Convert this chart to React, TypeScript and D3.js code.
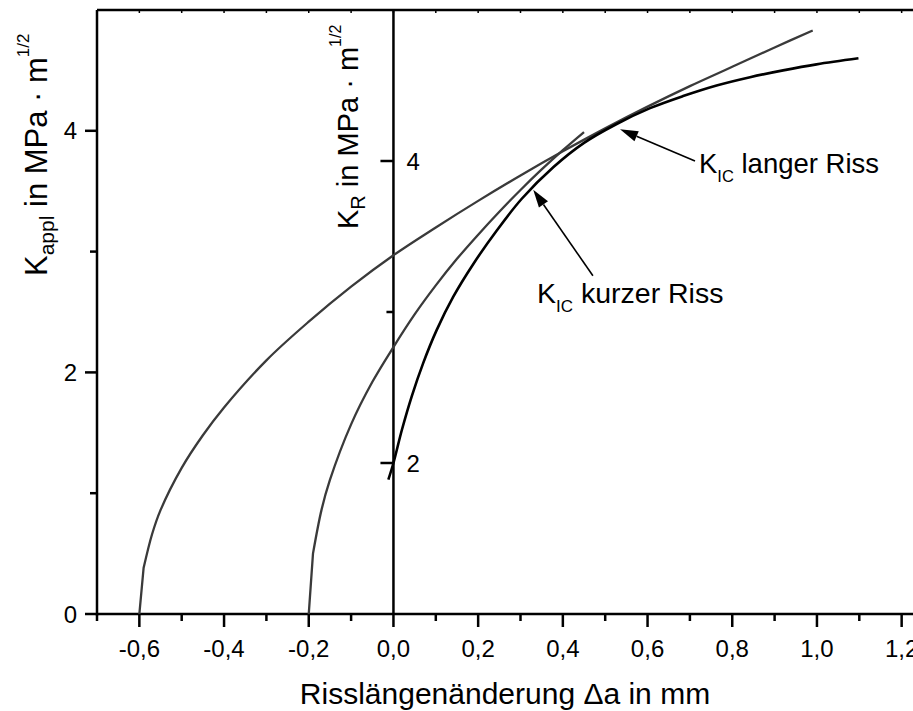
import React from "react";
import * as d3 from "d3";

// K_appl curve for the long crack (starts at -0.6 mm)
const curveAX = [-0.6, -0.59, -0.57, -0.55, -0.5, -0.45, -0.4, -0.3, -0.2, -0.1, 0, 0.1, 0.2, 0.3, 0.4, 0.5, 0.6, 0.7, 0.8, 0.9, 0.99];
const curveAK = [0, 0.38, 0.66, 0.86, 1.21, 1.48, 1.71, 2.1, 2.42, 2.71, 2.97, 3.2, 3.42, 3.63, 3.83, 4.02, 4.2, 4.37, 4.53, 4.69, 4.83];

// K_appl curve for the short crack (starts at -0.2 mm)
const curveBX = [-0.2, -0.19, -0.17, -0.15, -0.1, -0.05, 0, 0.05, 0.1, 0.15, 0.2, 0.25, 0.3, 0.35, 0.4, 0.45];
const curveBK = [0, 0.5, 0.86, 1.11, 1.57, 1.92, 2.21, 2.48, 2.72, 2.94, 3.14, 3.33, 3.51, 3.68, 3.84, 3.99];

// R-curve K_R (inner axis)
const curveRX = [-0.012, 0, 0.02, 0.043, 0.07, 0.102, 0.141, 0.189, 0.244, 0.303, 0.378, 0.45, 0.527, 0.606, 0.684, 0.763, 0.842, 0.92, 0.999, 1.098];
const curveRK = [1.89, 2.0, 2.22, 2.44, 2.66, 2.88, 3.1, 3.32, 3.54, 3.75, 3.96, 4.12, 4.245, 4.35, 4.43, 4.5, 4.555, 4.6, 4.64, 4.68];

const xMajorTicks = [-0.6, -0.4, -0.2, 0, 0.2, 0.4, 0.6, 0.8, 1.0, 1.2];
const xMinorTicks = [-0.7, -0.5, -0.3, -0.1, 0.1, 0.3, 0.5, 0.7, 0.9, 1.1];
const yApplMajor = [0, 2, 4];
const yApplMinor = [1, 3];
const yRMajor = [2, 4];
const yRMinor = [3];

// arrow tips/tails in data coordinates (x, K_R)
const annLang = { tip: [0.535, 4.21], tail: [0.712, 4.0] };
const annKurz = { tip: [0.33, 3.81], tail: [0.471, 3.24] };

const FONT = "'Liberation Sans', Arial, sans-serif";

export default function App() {
  const W = 913, H = 711;
  const x = d3.scaleLinear().domain([-0.7, 1.3]).range([97, 97 + 2 * 4.235 * 100]);
  const yA = d3.scaleLinear().domain([0, 5]).range([614, 10]);
  const yR = d3.scaleLinear().domain([1, 5]).range([614, 10]);

  const fmt = (v: number) => (v < 0 ? "-" : "") + Math.abs(v).toFixed(1).replace(".", ",");
  const smooth = d3.curveCatmullRom.alpha(0.5);

  const kinkPath = (xs: number[], ks: number[]) => {
    const pts: [number, number][] = xs.map((v, i) => [x(v), yA(ks[i])]);
    const rest = d3.line().curve(smooth)(pts.slice(1)) || "";
    return `M${pts[0][0]},${pts[0][1]}L` + rest.slice(1);
  };
  const rPath = d3.line().curve(smooth)(curveRX.map((v, i) => [x(v), yR(curveRK[i])] as [number, number])) || "";

  const x0 = x(0);
  const topTicks = d3.range(-7, 14).map((i) => i / 10);

  const arrow = (a: { tip: number[]; tail: number[] }) => {
    const tx = x(a.tip[0]), ty = yR(a.tip[1]);
    const sx = x(a.tail[0]), sy = yR(a.tail[1]);
    const ang = Math.atan2(ty - sy, tx - sx);
    const L = 18, Wd = 5.5;
    const bx = tx - L * Math.cos(ang), by = ty - L * Math.sin(ang);
    const p1 = [bx + Wd * Math.sin(ang), by - Wd * Math.cos(ang)];
    const p2 = [bx - Wd * Math.sin(ang), by + Wd * Math.cos(ang)];
    return (
      <g>
        <line x1={sx} y1={sy} x2={bx} y2={by} stroke="#000" strokeWidth={1.6} />
        <polygon points={`${tx},${ty} ${p1[0]},${p1[1]} ${p2[0]},${p2[1]}`} fill="#000" />
      </g>
    );
  };

  return (
    <svg width={W} height={H} style={{ position: "absolute", left: 0, top: 0, background: "#fff" }} fontFamily={FONT}>
      <rect x={0} y={0} width={W} height={H} fill="#fff" />
      {/* top border */}
      <line x1={97} y1={10} x2={W} y2={10} stroke="#000" strokeWidth={2.5} />
      {topTicks.map((t) => (
        <line key={"tt" + t} x1={x(t)} x2={x(t)} y1={10} y2={13} stroke="#000" strokeWidth={1.5} />
      ))}
      {/* bottom axis */}
      <line x1={97} y1={614} x2={W} y2={614} stroke="#000" strokeWidth={2.5} />
      {xMajorTicks.map((t) => (
        <g key={"xm" + t}>
          <line x1={x(t)} x2={x(t)} y1={614} y2={627} stroke="#000" strokeWidth={2.5} />
          <text x={x(t)} y={657} textAnchor="middle" fontSize={24}>{fmt(t)}</text>
        </g>
      ))}
      {xMinorTicks.map((t) => (
        <line key={"xn" + t} x1={x(t)} x2={x(t)} y1={614} y2={621} stroke="#000" strokeWidth={2.5} />
      ))}
      <text x={505} y={704} textAnchor="middle" fontSize={30}>Risslängenänderung Δa in mm</text>

      {/* left axis */}
      <line x1={97} y1={10} x2={97} y2={615.5} stroke="#000" strokeWidth={2.5} />
      {yApplMajor.map((t) => (
        <g key={"ya" + t}>
          <line x1={85} x2={97} y1={yA(t)} y2={yA(t)} stroke="#000" strokeWidth={2.5} />
          <text x={77} y={yA(t) + 8.5} textAnchor="end" fontSize={24}>{t}</text>
        </g>
      ))}
      {yApplMinor.map((t) => (
        <line key={"yan" + t} x1={90} x2={97} y1={yA(t)} y2={yA(t)} stroke="#000" strokeWidth={2.5} />
      ))}
      <text transform="translate(47,276) rotate(-90)" fontSize={31}>
        K<tspan fontSize={21} dy={7}>appl</tspan>
        <tspan dy={-7}> in MPa · m</tspan>
        <tspan fontSize={17} dy={-18}>1/2</tspan>
      </text>

      {/* inner K_R axis */}
      <line x1={x0} y1={10} x2={x0} y2={614} stroke="#000" strokeWidth={2.5} />
      {yRMajor.map((t) => (
        <g key={"yr" + t}>
          <line x1={x0 - 13} x2={x0} y1={yR(t)} y2={yR(t)} stroke="#000" strokeWidth={2.5} />
          <text x={x0 + 13} y={yR(t) + 8.5} textAnchor="start" fontSize={24}>{t}</text>
        </g>
      ))}
      {yRMinor.map((t) => (
        <line key={"yrn" + t} x1={x0 - 7} x2={x0} y1={yR(t)} y2={yR(t)} stroke="#000" strokeWidth={2.5} />
      ))}
      <text transform="translate(358,229) rotate(-90)" fontSize={29}>
        K<tspan fontSize={20} dy={7}>R</tspan>
        <tspan dy={-7}> in MPa · m</tspan>
        <tspan fontSize={16} dy={-17}>1/2</tspan>
      </text>

      {/* curves */}
      <path d={kinkPath(curveAX, curveAK)} fill="none" stroke="#3a3a3a" strokeWidth={2.3} />
      <path d={kinkPath(curveBX, curveBK)} fill="none" stroke="#3a3a3a" strokeWidth={2.3} />
      <path d={rPath} fill="none" stroke="#000" strokeWidth={2.6} />

      {/* annotations */}
      {arrow(annLang)}
      {arrow(annKurz)}
      <text x={699} y={173} fontSize={27.5}>
        K<tspan fontSize={16.5} dy={9}>IC</tspan>
        <tspan dy={-9}> langer Riss</tspan>
      </text>
      <text x={537} y={303} fontSize={28.5}>
        K<tspan fontSize={17} dy={9}>IC</tspan>
        <tspan dy={-9}> kurzer Riss</tspan>
      </text>
    </svg>
  );
}
